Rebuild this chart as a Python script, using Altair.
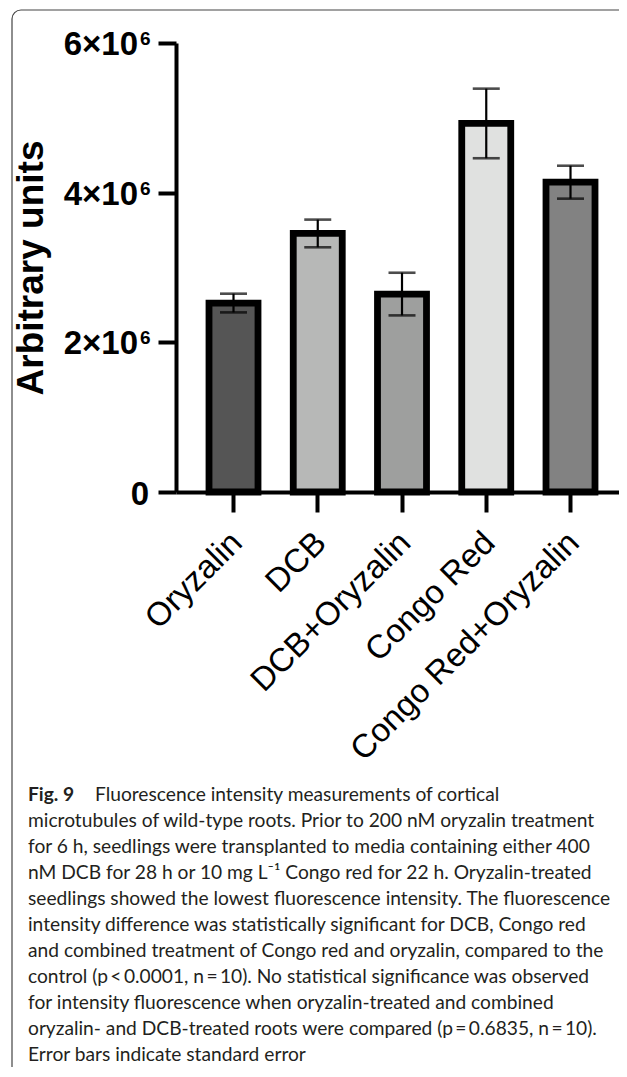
import altair as alt
import pandas as pd

categories = ["Oryzalin", "DCB", "DCB+Oryzalin", "Congo Red", "Congo Red+Oryzalin"]
means = [2.525e6, 3.455e6, 2.645e6, 4.925e6, 4.14e6]
sems = [0.125e6, 0.185e6, 0.285e6, 0.465e6, 0.22e6]
fills = ["#555555", "#b7b8b7", "#9e9f9e", "#e0e1e0", "#828282"]

tick_values = [0, 2e6, 4e6, 6e6]
tick_bases = ["0", "2×10", "4×10", "6×10"]
tick_sups = ["", "6", "6", "6"]

fig_label = "Fig. 9"
caption_lines = [
    "Fluorescence intensity measurements of cortical",
    "microtubules of wild-type roots. Prior to 200 nM oryzalin treatment",
    "for 6 h, seedlings were transplanted to media containing either 400",
    "nM DCB for 28 h or 10 mg L\u207b\u00b9 Congo red for 22 h. Oryzalin-treated",
    "seedlings showed the lowest fluorescence intensity. The fluorescence",
    "intensity difference was statistically significant for DCB, Congo red",
    "and combined treatment of Congo red and oryzalin, compared to the",
    "control (p\u2009<\u20090.0001, n\u2009=\u200910). No statistical significance was observed",
    "for intensity fluorescence when oryzalin-treated and combined",
    "oryzalin- and DCB-treated roots were compared (p\u2009=\u20090.6835, n\u2009=\u200910).",
    "Error bars indicate standard error",
]

df = pd.DataFrame({"treatment": categories, "mean": means, "sem": sems})
ticks_df = pd.DataFrame({"v": tick_values, "base": tick_bases, "sup": tick_sups})
one = pd.DataFrame({"a": [0]})

W, H = 443, 449
FONT = "Liberation Sans"

xscale = alt.Scale(paddingInner=0.4184, paddingOuter=0.3383, align=0.579)
xaxis = alt.Axis(
    title=None, labelAngle=-45, labelAlign="right", labelBaseline="top",
    labelFont=FONT, labelFontSize=33, labelColor="black", labelLimit=1000,
    labelPadding=14, labelOffset=-8, tickSize=20, tickWidth=4, tickColor="black",
    domainColor="black", domainWidth=4,
)
yscale = alt.Scale(domain=[0, 6e6], nice=False, zero=True)
yaxis = alt.Axis(
    values=tick_values, labels=False, grid=False, tickSize=18, tickWidth=4,
    tickColor="black", domainWidth=4, domainColor="black",
    title="Arbitrary units", titleFont=FONT, titleFontSize=37,
    titleFontWeight="bold", titleColor="black", titleX=-134, titleY=224.5,
    titleAngle=270, titleAlign="center", titleBaseline="alphabetic",
)

xenc = alt.X("treatment:N", sort=categories, scale=xscale, axis=xaxis)

bars = alt.Chart(df).mark_bar(stroke="black", strokeWidth=6.8).encode(
    x=xenc,
    y=alt.Y("mean:Q", scale=yscale, axis=yaxis),
    color=alt.Color("treatment:N", scale=alt.Scale(domain=categories, range=fills), legend=None),
)

err = alt.Chart(df).transform_calculate(
    lo="datum.mean - datum.sem", hi="datum.mean + datum.sem"
)
whisker = err.mark_rule(color="black", strokeWidth=2.2).encode(
    x=xenc, y=alt.Y("lo:Q", scale=yscale, axis=yaxis), y2="hi:Q"
)
cap_hi = err.mark_tick(color="black", size=27, thickness=2.6).encode(
    x=xenc, y=alt.Y("hi:Q", scale=yscale, axis=yaxis)
)
cap_lo = err.mark_tick(color="black", size=27, thickness=2.6).encode(
    x=xenc, y=alt.Y("lo:Q", scale=yscale, axis=yaxis)
)

ybase = alt.Chart(ticks_df).transform_filter("datum.v > 0").mark_text(
    font=FONT, fontSize=33, fontWeight="bold", align="right", baseline="alphabetic", dy=12, color="black"
).encode(x=alt.value(-38), y=alt.Y("v:Q", scale=yscale, axis=yaxis), text="base:N")
ysup = alt.Chart(ticks_df).transform_filter("datum.v > 0").mark_text(
    font=FONT, fontSize=19, fontWeight="bold", align="left", baseline="alphabetic", dy=2, color="black"
).encode(x=alt.value(-36), y=alt.Y("v:Q", scale=yscale, axis=yaxis), text="sup:N")
yzero = alt.Chart(ticks_df).transform_filter("datum.v == 0").mark_text(
    font=FONT, fontSize=33, fontWeight="bold", align="right", baseline="alphabetic", dy=13, color="black"
).encode(x=alt.value(-27), y=alt.Y("v:Q", scale=yscale, axis=yaxis), text="base:N")

frame = alt.Chart(one).mark_rect(
    fill="white", fillOpacity=0, stroke="#444444", strokeWidth=1.2, cornerRadius=9
).encode(x=alt.value(-164), x2=alt.value(700), y=alt.value(-33), y2=alt.value(1300))

cap_layers = []
CAP_FONT = "Lato"
CAP_SIZE = 19.2
cap_layers.append(
    alt.Chart(one).mark_text(
        text=fig_label, font=CAP_FONT, fontSize=CAP_SIZE, fontWeight="bold",
        align="left", baseline="alphabetic", color="#231f20"
    ).encode(x=alt.value(-148), y=alt.value(758))
)
for i, line in enumerate(caption_lines):
    xpos = -81 if i == 0 else -148
    cap_layers.append(
        alt.Chart(one).mark_text(
            text=line, font=CAP_FONT, fontSize=CAP_SIZE, align="left",
            baseline="alphabetic", color="#231f20"
        ).encode(x=alt.value(xpos), y=alt.value(758 + 26 * i))
    )

chart = alt.layer(
    frame, bars, whisker, cap_hi, cap_lo, ybase, ysup, yzero, *cap_layers
).properties(
    width=W, height=H,
    padding={"left": 168, "top": 35, "right": 0, "bottom": 575},
    autosize=alt.AutoSizeParams(type="none"),
).configure_view(stroke=None)

chart.save("out.html", embed_options={"renderer": "svg", "actions": False})
